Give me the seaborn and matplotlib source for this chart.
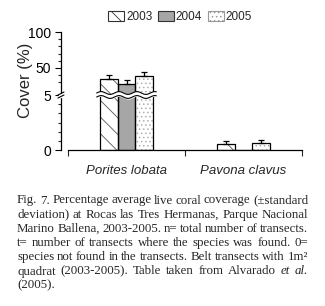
import numpy as np
import pandas as pd
import matplotlib
matplotlib.use("Agg")
import matplotlib.pyplot as plt
import seaborn as sns
from matplotlib.patches import Patch
from matplotlib.transforms import blended_transform_factory

# data
species = ["Porites lobata", "Pavona clavus"]
years = ["2003", "2004", "2005"]
cover_2003 = [35, 0.55]
cover_2004 = [28, 0]
cover_2005 = [39, 0.6]
sd_2003 = [4.5, 0.3]
sd_2004 = [4.5, 0]
sd_2005 = [5, 0.3]

caption_lines = [
    "Fig. 7. Percentage average live coral coverage (±standard",
    "deviation) at Rocas las Tres Hermanas, Parque Nacional",
    "Marino Ballena, 2003-2005. n= total number of transects.",
    "t= number of transects where the species was found. 0=",
    "species not found in the transects. Belt transects with 1m²",
    "quadrat (2003-2005). Table taken from Alvarado et al.",
    "(2005).",
]

df = pd.DataFrame({
    "species": species * 3,
    "year": [y for y in years for _ in species],
    "cover": cover_2003 + cover_2004 + cover_2005,
})
sds = [sd_2003, sd_2004, sd_2005]

sns.set_style("ticks")
plt.rcParams["font.family"] = ["Liberation Sans", "DejaVu Sans"]
plt.rcParams["hatch.linewidth"] = 0.6

W, H = 325, 306
fig = plt.figure(figsize=(W / 100, H / 100), dpi=100)
ax = fig.add_axes([68 / W, 1 - 150 / H, 234 / W, 118 / H])

sns.barplot(data=df, x="species", y="cover", hue="year", order=species,
            hue_order=years, palette=["white", "#a6a6a6", "white"],
            width=0.46, saturation=1, errorbar=None, legend=False,
            linewidth=0.6, ax=ax)
hatches = [r"\\", "", "...."]
hcols = ["#555555", "black", "#b0b0b0"]
for cont, h, ec in zip(ax.containers[:3], hatches, hcols):
    for bar in cont:
        bar.set_hatch(h)
        bar.set_edgecolor(ec)

# black outlines on top of the hatched bars
sns.barplot(data=df, x="species", y="cover", hue="year", order=species,
            hue_order=years, palette=["black"] * 3, fill=False,
            width=0.46, errorbar=None, legend=False, linewidth=0.9, ax=ax)

# one-sided error bars
for cont, sd in zip(ax.containers[:3], sds):
    xs = np.array([b.get_x() + b.get_width() / 2 for b in cont])
    ys = np.array([b.get_height() for b in cont])
    sd = np.array(sd)
    m = sd > 0
    ax.errorbar(xs[m], ys[m], yerr=[np.zeros(m.sum()), sd[m]], fmt="none",
                ecolor="black", elinewidth=0.9, capsize=2.2, capthick=0.9,
                zorder=5)


# broken y axis: 0-5 below, 12.5-100 above
def fwd(v):
    v = np.asarray(v, dtype=float)
    return np.where(v <= 5, v * 11,
                    np.where(v <= 12.5, 55 + (v - 5) * 0.06,
                             55.45 + (v - 12.5) * 0.72))


def inv(d):
    d = np.asarray(d, dtype=float)
    return np.where(d <= 55, d / 11,
                    np.where(d <= 55.45, 5 + (d - 55) / 0.06,
                             12.5 + (d - 55.45) / 0.72))


ax.set_yscale("function", functions=(fwd, inv))
ax.set_ylim(0, 100)
ax.set_yticks([0, 5, 50, 100])
ax.set_yticklabels(["0", "5", "50", "100"], fontsize=9)
ax.set_yticks([5 / 6 * k for k in range(1, 6)] + [30, 40, 60, 70, 80, 90],
              minor=True)
ax.tick_params(axis="y", which="major", length=4.5, width=0.8, pad=2.5,
               colors="black")
ax.tick_params(axis="y", which="minor", length=2.5, width=0.8)

ax.set_xlim(-0.5, 1.5)
ax.set_xticks([-0.5, 0.5, 1.5])
ax.set_xticklabels([])
ax.set_xticks([0, 1], minor=True)
ax.set_xticklabels(species, minor=True, style="italic", fontsize=9.5)
ax.tick_params(axis="x", which="major", length=4, width=0.8)
ax.tick_params(axis="x", which="minor", length=0, pad=11)
ax.set_xlabel("")
ax.set_ylabel("Cover (%)", fontsize=12)
ax.yaxis.set_label_coords(-0.15, 0.59)

sns.despine(ax=ax)
ax.spines["left"].set_position(("outward", 5))
for s in ["left", "bottom"]:
    ax.spines[s].set_linewidth(0.9)
    ax.spines[s].set_color("black")

# wavy break across the Porites bars
tr = blended_transform_factory(ax.transData, ax.transAxes)
xw = np.linspace(-0.255, 0.255, 300)
wave = 0.012 * np.sin(2 * np.pi * (xw + 0.255) / 0.153)
lo, hi = 53 / 118, 57 / 118
ax.fill_between(xw, lo + wave, hi + wave, color="white", transform=tr,
                zorder=6)
ax.plot(xw, lo + wave, color="black", lw=0.8, transform=tr, zorder=7)
ax.plot(xw, hi + wave, color="black", lw=0.8, transform=tr, zorder=7)

# break mark on the y spine
sx = -7 / 234
ax.add_patch(plt.Rectangle((sx - 2 / 234, 53.5 / 118), 4 / 234, 3 / 118,
                           color="white", transform=ax.transAxes,
                           clip_on=False, zorder=6))
for dy in (53.5, 56.5):
    ax.plot([sx - 3 / 234, sx + 3 / 234],
            [(dy - 1.5) / 118, (dy + 1.5) / 118], color="black", lw=0.8,
            transform=ax.transAxes, clip_on=False, zorder=7)

handles = [Patch(facecolor="white", edgecolor="#333333", hatch=r"\\", lw=0.8),
           Patch(facecolor="#a6a6a6", edgecolor="#333333", lw=0.8),
           Patch(facecolor="white", edgecolor="#999999", hatch="....", lw=0.8)]
fig.legend(handles, years, loc="center", bbox_to_anchor=(180 / W, 1 - 17 / H),
           ncol=3, frameon=False, fontsize=8.5, handlelength=1.35,
           handleheight=1.0, handletextpad=0.2, columnspacing=0.45,
           borderaxespad=0, borderpad=0)

# justified caption, font size fitted so the first line has normal spaces
renderer = fig.canvas.get_renderer()
x0, x1 = 17, 308
first = caption_lines[0].split(" ")
probes = [fig.text(0, 0, w, fontsize=10, family="Liberation Serif")
          for w in first]
wsum = sum(p.get_window_extent(renderer).width for p in probes)
for p in probes:
    p.remove()
fs = 10 * (x1 - x0 - 2.6 * (len(first) - 1)) / wsum
for i, line in enumerate(caption_lines):
    words = line.split(" ")
    styles = ["normal"] * len(words)
    if "et" in words and "al." in words:
        styles[words.index("et")] = "italic"
        styles[words.index("al.")] = "italic"
    ybase = 1 - (203.5 + 14.2 * i) / H
    texts = [fig.text(0, ybase, w, fontsize=fs, family="Liberation Serif",
                      style=st, va="baseline", ha="left")
             for w, st in zip(words, styles)]
    widths = [t.get_window_extent(renderer).width for t in texts]
    if i < len(caption_lines) - 1:
        gap = (x1 - x0 - sum(widths)) / (len(words) - 1)
    else:
        gap = 2.6
    x = x0
    for t, w in zip(texts, widths):
        t.set_x(x / W)
        x += w + gap

fig.savefig("out.png", dpi=100)
